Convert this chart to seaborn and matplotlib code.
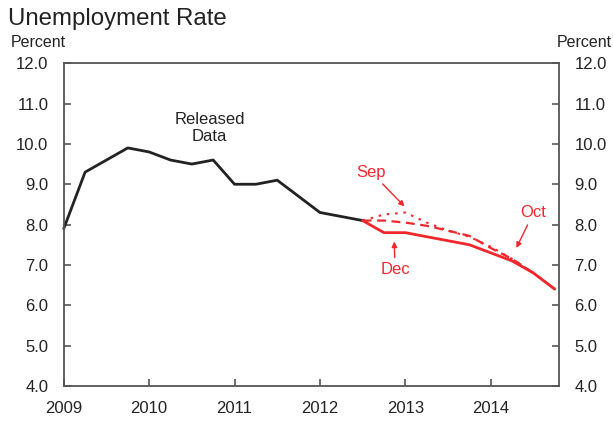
import matplotlib
matplotlib.use('Agg')
import matplotlib.pyplot as plt
import seaborn as sns
import pandas as pd

# quarterly data
released_q = ['2009Q1', '2009Q2', '2009Q3', '2009Q4', '2010Q1', '2010Q2', '2010Q3', '2010Q4',
              '2011Q1', '2011Q2', '2011Q3', '2011Q4', '2012Q1', '2012Q2', '2012Q3']
released = [7.9, 9.3, 9.6, 9.9, 9.8, 9.6, 9.5, 9.6, 9.0, 9.0, 9.1, 8.7, 8.3, 8.2, 8.1]

forecast_q = ['2012Q3', '2012Q4', '2013Q1', '2013Q2', '2013Q3', '2013Q4',
              '2014Q1', '2014Q2', '2014Q3', '2014Q4']
sep = [8.1, 8.25, 8.3, 8.05, 7.85, 7.7, 7.45, 7.15, 6.8, 6.4]
octo = [8.1, 8.1, 8.05, 7.97, 7.85, 7.72, 7.42, 7.15, 6.8, 6.4]
dec = [8.1, 7.8, 7.8, 7.7, 7.6, 7.5, 7.3, 7.1, 6.8, 6.4]

year_ticks = [2009, 2010, 2011, 2012, 2013, 2014]
y_ticks = [4.0, 5.0, 6.0, 7.0, 8.0, 9.0, 10.0, 11.0, 12.0]


def qpos(labels):
    return [int(s[:4]) + (int(s[-1]) - 1) / 4 for s in labels]


sns.set_style('white')
plt.rcParams['font.family'] = ['Liberation Sans', 'DejaVu Sans']

RED = '#f0282d'
DARK = '#222222'

fig = plt.figure(figsize=(6.13, 4.24), dpi=100)
ax = fig.add_axes([0.104, 0.0896, 0.808, 0.7614])

df_rel = pd.DataFrame({'x': qpos(released_q), 'y': released})
df_fc = pd.DataFrame({'x': qpos(forecast_q), 'sep': sep, 'oct': octo, 'dec': dec})

sns.lineplot(data=df_rel, x='x', y='y', ax=ax, color=DARK, linewidth=2, clip_on=False)
sns.lineplot(data=df_fc, x='x', y='sep', ax=ax, color=RED, linewidth=1.5,
             linestyle=(0, (1.2, 2.8)))
sns.lineplot(data=df_fc, x='x', y='oct', ax=ax, color=RED, linewidth=1.6,
             linestyle=(0, (4, 2.5)))
sns.lineplot(data=df_fc, x='x', y='dec', ax=ax, color=RED, linewidth=2)

ax.set_xlim(2009.0, 2014.8)
ax.set_ylim(4.0, 12.0)
ax.set_xticks(year_ticks)
ax.set_xticklabels([str(y) for y in year_ticks])
ax.set_yticks(y_ticks)
ax.set_yticklabels([f'{v:.1f}' for v in y_ticks])
ax.set_xlabel('')
ax.set_ylabel('')

for s in ax.spines.values():
    s.set_color('#555555')
    s.set_linewidth(1.3)

ax.tick_params(axis='y', direction='in', length=5, width=1.2, color='#555555',
               labelsize=12, labelcolor=DARK, left=True, right=True,
               labelleft=True, labelright=True, pad=11)
ax.tick_params(axis='x', direction='in', length=5, width=1.2, color='#555555',
               labelsize=12, labelcolor=DARK, bottom=True, pad=11)

fig.text(0.013, 0.955, 'Unemployment Rate', fontsize=17.3, color=DARK, va='center')
fig.text(0.018, 0.9, 'Percent', fontsize=11.5, color=DARK, va='center')
fig.text(0.998, 0.9, 'Percent', fontsize=11.5, color=DARK, va='center', ha='right')

ax.text(2010.71, 10.4, 'Released\nData', fontsize=12, color=DARK, ha='center',
        va='center', linespacing=1.15)

arrow = dict(arrowstyle='-|>', color=RED, lw=1, mutation_scale=8, shrinkA=1, shrinkB=0)
ax.annotate('Sep', xy=(2012.99, 8.45), xytext=(2012.6, 9.3), fontsize=12, color=RED,
            ha='center', va='center', arrowprops=arrow)
ax.annotate('Oct', xy=(2014.3, 7.42), xytext=(2014.5, 8.29), fontsize=12, color=RED,
            ha='center', va='center', arrowprops=arrow)
ax.annotate('Dec', xy=(2012.87, 7.58), xytext=(2012.88, 6.88), fontsize=12, color=RED,
            ha='center', va='center', arrowprops=arrow)

fig.savefig('out.png', dpi=100)
